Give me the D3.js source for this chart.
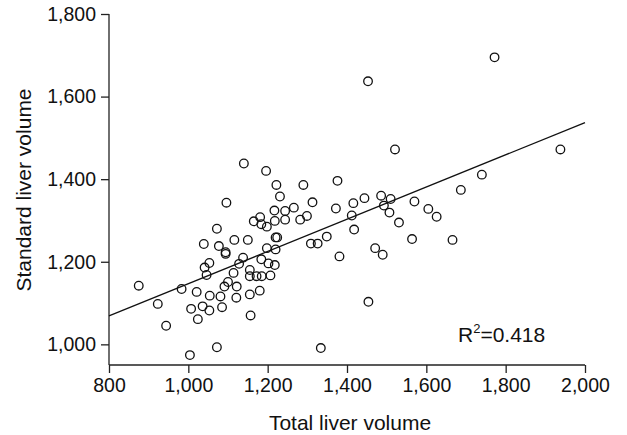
<!DOCTYPE html>
<html>
<head>
<meta charset="utf-8">
<script src="https://cdn.jsdelivr.net/npm/d3@7"></script>
<style>
  html, body { margin: 0; padding: 0; background: #fff; }
  svg { display: block; font-family: "Liberation Sans", Arial, sans-serif; }
</style>
</head>
<body>
<svg id="chart" width="627" height="435"></svg>
<script>
// Total liver volume (x) and standard liver volume (y)
const totalVolume = [
  1140, 1196, 1222, 1231, 1096, 1217, 1181, 1165, 1184, 1198, 1218, 1072, 1220, 1224,
  1116, 1150, 1039, 1077, 1094, 1094, 1198, 1220, 1138, 1184, 1202, 1218, 1053, 1041,
  1046, 1128, 1114, 1155, 1155, 1172, 1185, 1207, 875, 983, 1021, 1100, 1091, 1122,
  1054, 1081, 1121, 1155, 1180, 923, 1007, 1036, 1053, 1085, 1024, 1157, 944, 1072,
  1004, 1334, 1244, 1244, 1521, 1290, 1376, 1313, 1444, 1486, 1510, 1493, 1416, 1372,
  1266, 1282, 1299, 1412, 1507, 1570, 1605, 1626, 1531, 1418, 1349, 1309, 1326, 1564,
  1666, 1381, 1471, 1490, 1454, 1772, 1938, 1740, 1687, 1453
];
const standardVolume = [
  1438, 1420, 1386, 1358, 1343, 1324, 1308, 1298, 1291, 1285, 1299, 1280, 1259, 1259,
  1253, 1253, 1243, 1238, 1223, 1219, 1233, 1230, 1210, 1206, 1196, 1192, 1197, 1186,
  1168, 1195, 1173, 1180, 1165, 1165, 1165, 1167, 1142, 1134, 1127, 1151, 1140, 1140,
  1118, 1116, 1113, 1121, 1130, 1098, 1086, 1092, 1082, 1090, 1061, 1070, 1045, 993,
  974, 991, 1323, 1302, 1472, 1386, 1396, 1344, 1354, 1360, 1352, 1336, 1342, 1329,
  1331, 1302, 1311, 1312, 1319, 1346, 1328, 1309, 1295, 1278, 1261, 1244, 1244, 1255,
  1253, 1213, 1233, 1217, 1103, 1695, 1472, 1411, 1374, 1637
];
// Regression line end points
const fitX = [800, 2000];
const fitY = [1069, 1537];
const rSquared = "0.418";

const xTicks = [800, 1000, 1200, 1400, 1600, 1800, 2000];
const yTicks = [1000, 1200, 1400, 1600, 1800];

const svg = d3.select("#chart");
const x = d3.scaleLinear().domain([800, 2000]).range([109, 585]);
const y = d3.scaleLinear().domain([950, 1800]).range([365, 14]);
const fmt = d3.format(",");

const xAxis = svg.append("g").attr("transform", "translate(0,365)")
  .call(d3.axisBottom(x).tickValues(xTicks).tickFormat(fmt).tickSize(8).tickPadding(5).tickSizeOuter(0));
const yAxis = svg.append("g").attr("transform", "translate(109,0)")
  .call(d3.axisLeft(y).tickValues(yTicks).tickFormat(fmt).tickSize(8).tickPadding(5).tickSizeOuter(0));

[xAxis, yAxis].forEach(g => {
  g.select(".domain").attr("stroke", "#222").attr("stroke-width", 1.3);
  g.selectAll(".tick line").attr("stroke", "#222").attr("stroke-width", 1.3);
  g.selectAll(".tick text").attr("fill", "#111").style("font-size", "19.5px")
    .style("font-family", "'Liberation Sans', Arial, sans-serif");
});
xAxis.select(".domain").attr("d", `M${x(800)},0H${x(2000)}`);
yAxis.select(".domain").attr("d", `M0,${y(1800)}V${y(950)}`);

// regression line
svg.append("line")
  .attr("x1", x(fitX[0])).attr("y1", y(fitY[0]))
  .attr("x2", x(fitX[1])).attr("y2", y(fitY[1]))
  .attr("stroke", "#111").attr("stroke-width", 1.3);

// points
svg.append("g").selectAll("circle")
  .data(totalVolume.map((v, i) => [v, standardVolume[i]]))
  .join("circle")
  .attr("cx", d => x(d[0])).attr("cy", d => y(d[1]))
  .attr("r", 4.3)
  .attr("fill", "none").attr("stroke", "#111").attr("stroke-width", 1.3);

// R squared
const rt = svg.append("text").attr("x", 458).attr("y", 342)
  .style("font-size", "21px").attr("fill", "#111");
rt.append("tspan").text("R");
rt.append("tspan").attr("dy", -9).style("font-size", "13px").text("2");
rt.append("tspan").attr("dy", 9).text("=" + rSquared);

// axis titles
svg.append("text").attr("x", 350).attr("y", 430).attr("text-anchor", "middle")
  .style("font-size", "21px").attr("fill", "#111").text("Total liver volume");
svg.append("text").attr("transform", "translate(31,190) rotate(-90)")
  .attr("text-anchor", "middle").style("font-size", "21px").attr("fill", "#111")
  .text("Standard liver volume");
</script>
</body>
</html>
